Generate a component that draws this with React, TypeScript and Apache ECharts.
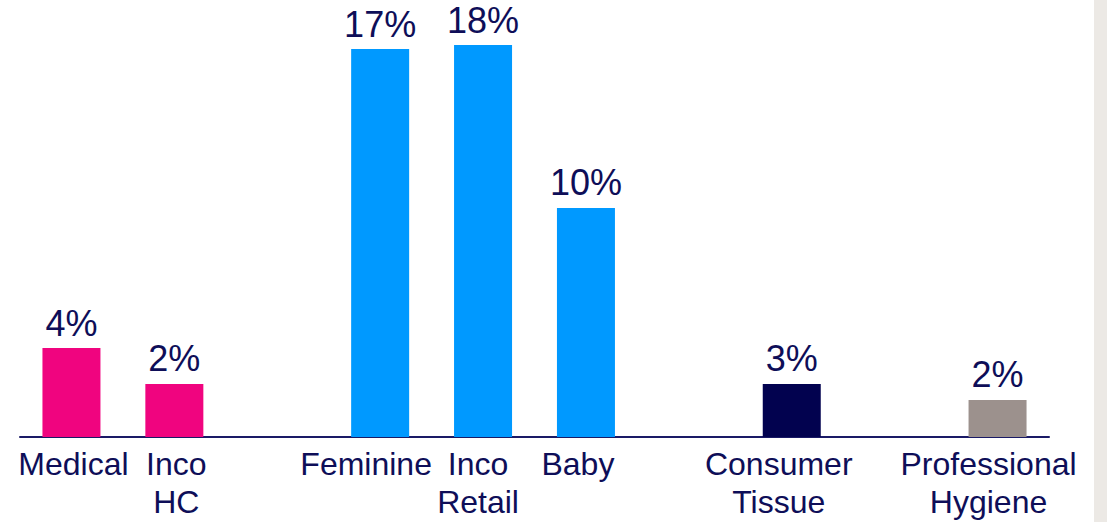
import React, { useEffect, useRef } from "react";
import * as echarts from "echarts";

const categories = ["Medical", "Inco\nHC", "", "Feminine", "Inco\nRetail", "Baby", "", "Consumer\nTissue", "", "Professional\nHygiene"];
const values: (number | null)[] = [4.0, 2.39, null, 17.46, 17.64, 10.31, null, 2.39, null, 1.67];
const valueLabels = ["4%", "2%", "", "17%", "18%", "10%", "", "3%", "", "2%"];
const barColors = ["#F0047F", "#F0047F", "", "#0099FF", "#0099FF", "#0099FF", "", "#02024F", "", "#9C918D"];

// horizontal nudge of each category label (px, negative = left), layout only
const labelNudge = [2, 2, 0, -14, -5, -8, 0, -13, 0, -9];

const TEXT = "#0E0E58";
const FONT = "Liberation Sans, Arial, sans-serif";

export default function App() {
  const ref = useRef<HTMLDivElement>(null);
  useEffect(() => {
    const chart = echarts.init(ref.current!, undefined, { renderer: "svg" });
    chart.setOption({
      animation: false,
      backgroundColor: "#FFFFFF",
      graphic: [
        { type: "rect", left: 1094, top: 0, shape: { width: 13, height: 522 }, style: { fill: "#ECE9E5" }, z: -1 },
      ],
      grid: { left: 20, right: 58, top: 37, bottom: 85 },
      xAxis: {
        type: "category",
        data: categories.map((c, i) => {
          const n = labelNudge[i];
          const pad = n < 0 ? [0, -2 * n, 0, 0] : [0, 0, 0, 2 * n];
          return { value: c, textStyle: { padding: pad } };
        }),
        axisLine: { show: true, lineStyle: { color: "#1A1A66", width: 2 } },
        axisTick: { show: false },
        axisLabel: {
          interval: 0,
          color: TEXT,
          fontFamily: FONT,
          fontSize: 32,
          lineHeight: 38,
          margin: 8,
          align: "center",
        },
      },
      yAxis: { type: "value", min: 0, max: 18, show: false, splitLine: { show: false } },
      series: [
        {
          type: "bar",
          barWidth: 58,
          data: values.map((v, i) => ({
            value: v,
            itemStyle: { color: barColors[i] || "#000" },
            label: { formatter: valueLabels[i] },
          })),
          label: {
            show: true,
            position: "top",
            distance: 7,
            color: TEXT,
            fontFamily: FONT,
            fontSize: 36,
          },
        },
      ],
    });
    return () => chart.dispose();
  }, []);
  return <div ref={ref} style={{ position: "fixed", left: 0, top: 0, width: 1107, height: 522 }} />;
}
